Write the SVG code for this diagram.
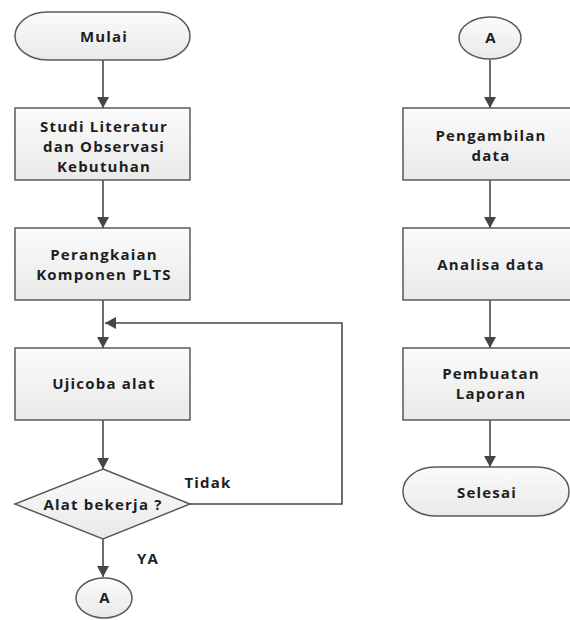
<svg xmlns="http://www.w3.org/2000/svg" width="570" height="620" viewBox="0 0 570 620">
<defs>
<linearGradient id="g" x1="0" y1="0" x2="0" y2="1">
<stop offset="0" stop-color="#fbfbfb"/>
<stop offset="1" stop-color="#e9e9e9"/>
</linearGradient>
<marker id="ah" markerWidth="12" markerHeight="12" refX="11" refY="6" orient="auto" markerUnits="userSpaceOnUse">
<path d="M0,0 L11,6 L0,12 z" fill="#454545"/>
</marker>
<style>
.s{fill:url(#g);stroke:#5a5a5a;stroke-width:1.5}
.c{fill:none;stroke:#4a4a4a;stroke-width:1.6}
text{font-family:"Open Sans","Liberation Sans",sans-serif;font-weight:bold;font-size:15px;letter-spacing:1.2px;fill:#1e1e1e;text-anchor:middle}
</style>
</defs>
<rect width="570" height="620" fill="#ffffff"/>
<g id="connectors">
<line class="c" x1="103" y1="60" x2="103" y2="108" marker-end="url(#ah)"/>
<line class="c" x1="103" y1="180" x2="103" y2="228" marker-end="url(#ah)"/>
<line class="c" x1="103" y1="300" x2="103" y2="348" marker-end="url(#ah)"/>
<line class="c" x1="103" y1="420" x2="103" y2="469" marker-end="url(#ah)"/>
<line class="c" x1="103" y1="539" x2="103" y2="577" marker-end="url(#ah)"/>
<polyline class="c" points="190,504 342,504 342,323 105,323" marker-end="url(#ah)"/>
<line class="c" x1="490" y1="60" x2="490" y2="108" marker-end="url(#ah)"/>
<line class="c" x1="490" y1="180" x2="490" y2="228" marker-end="url(#ah)"/>
<line class="c" x1="490" y1="300" x2="490" y2="348" marker-end="url(#ah)"/>
<line class="c" x1="490" y1="420" x2="490" y2="467" marker-end="url(#ah)"/>
<text x="208" y="488">Tidak</text>
<text x="148" y="564">YA</text>
</g>
<g id="mulai">
<rect class="s" x="15" y="12" width="175" height="48" rx="32" ry="24"/>
<text x="104" y="42">Mulai</text>
</g>
<g id="studi">
<rect class="s" x="15" y="108" width="175" height="72"/>
<text x="104" y="132">Studi Literatur</text>
<text x="104" y="152">dan Observasi</text>
<text x="104" y="172">Kebutuhan</text>
</g>
<g id="perangkaian">
<rect class="s" x="15" y="228" width="175" height="72"/>
<text x="104" y="260">Perangkaian</text>
<text x="104" y="280">Komponen PLTS</text>
</g>
<g id="ujicoba">
<rect class="s" x="15" y="348" width="175" height="72"/>
<text x="104" y="389">Ujicoba alat</text>
</g>
<g id="decision">
<polygon class="s" points="103,469 190,504 103,539 15,504"/>
<text x="103" y="510">Alat bekerja ?</text>
</g>
<g id="a-bottom">
<ellipse class="s" cx="104" cy="598" rx="28" ry="20"/>
<text x="105" y="603">A</text>
</g>
<g id="a-top">
<ellipse class="s" cx="490" cy="38" rx="31" ry="21"/>
<text x="491" y="43">A</text>
</g>
<g id="pengambilan">
<rect class="s" x="403" y="108" width="174" height="72"/>
<text x="491" y="141">Pengambilan</text>
<text x="491" y="161">data</text>
</g>
<g id="analisa">
<rect class="s" x="403" y="228" width="174" height="72"/>
<text x="491" y="270">Analisa data</text>
</g>
<g id="pembuatan">
<rect class="s" x="403" y="348" width="174" height="72"/>
<text x="491" y="379">Pembuatan</text>
<text x="491" y="399">Laporan</text>
</g>
<g id="selesai">
<rect class="s" x="403" y="467" width="166" height="49" rx="32" ry="24"/>
<text x="487" y="498">Selesai</text>
</g>
</svg>
